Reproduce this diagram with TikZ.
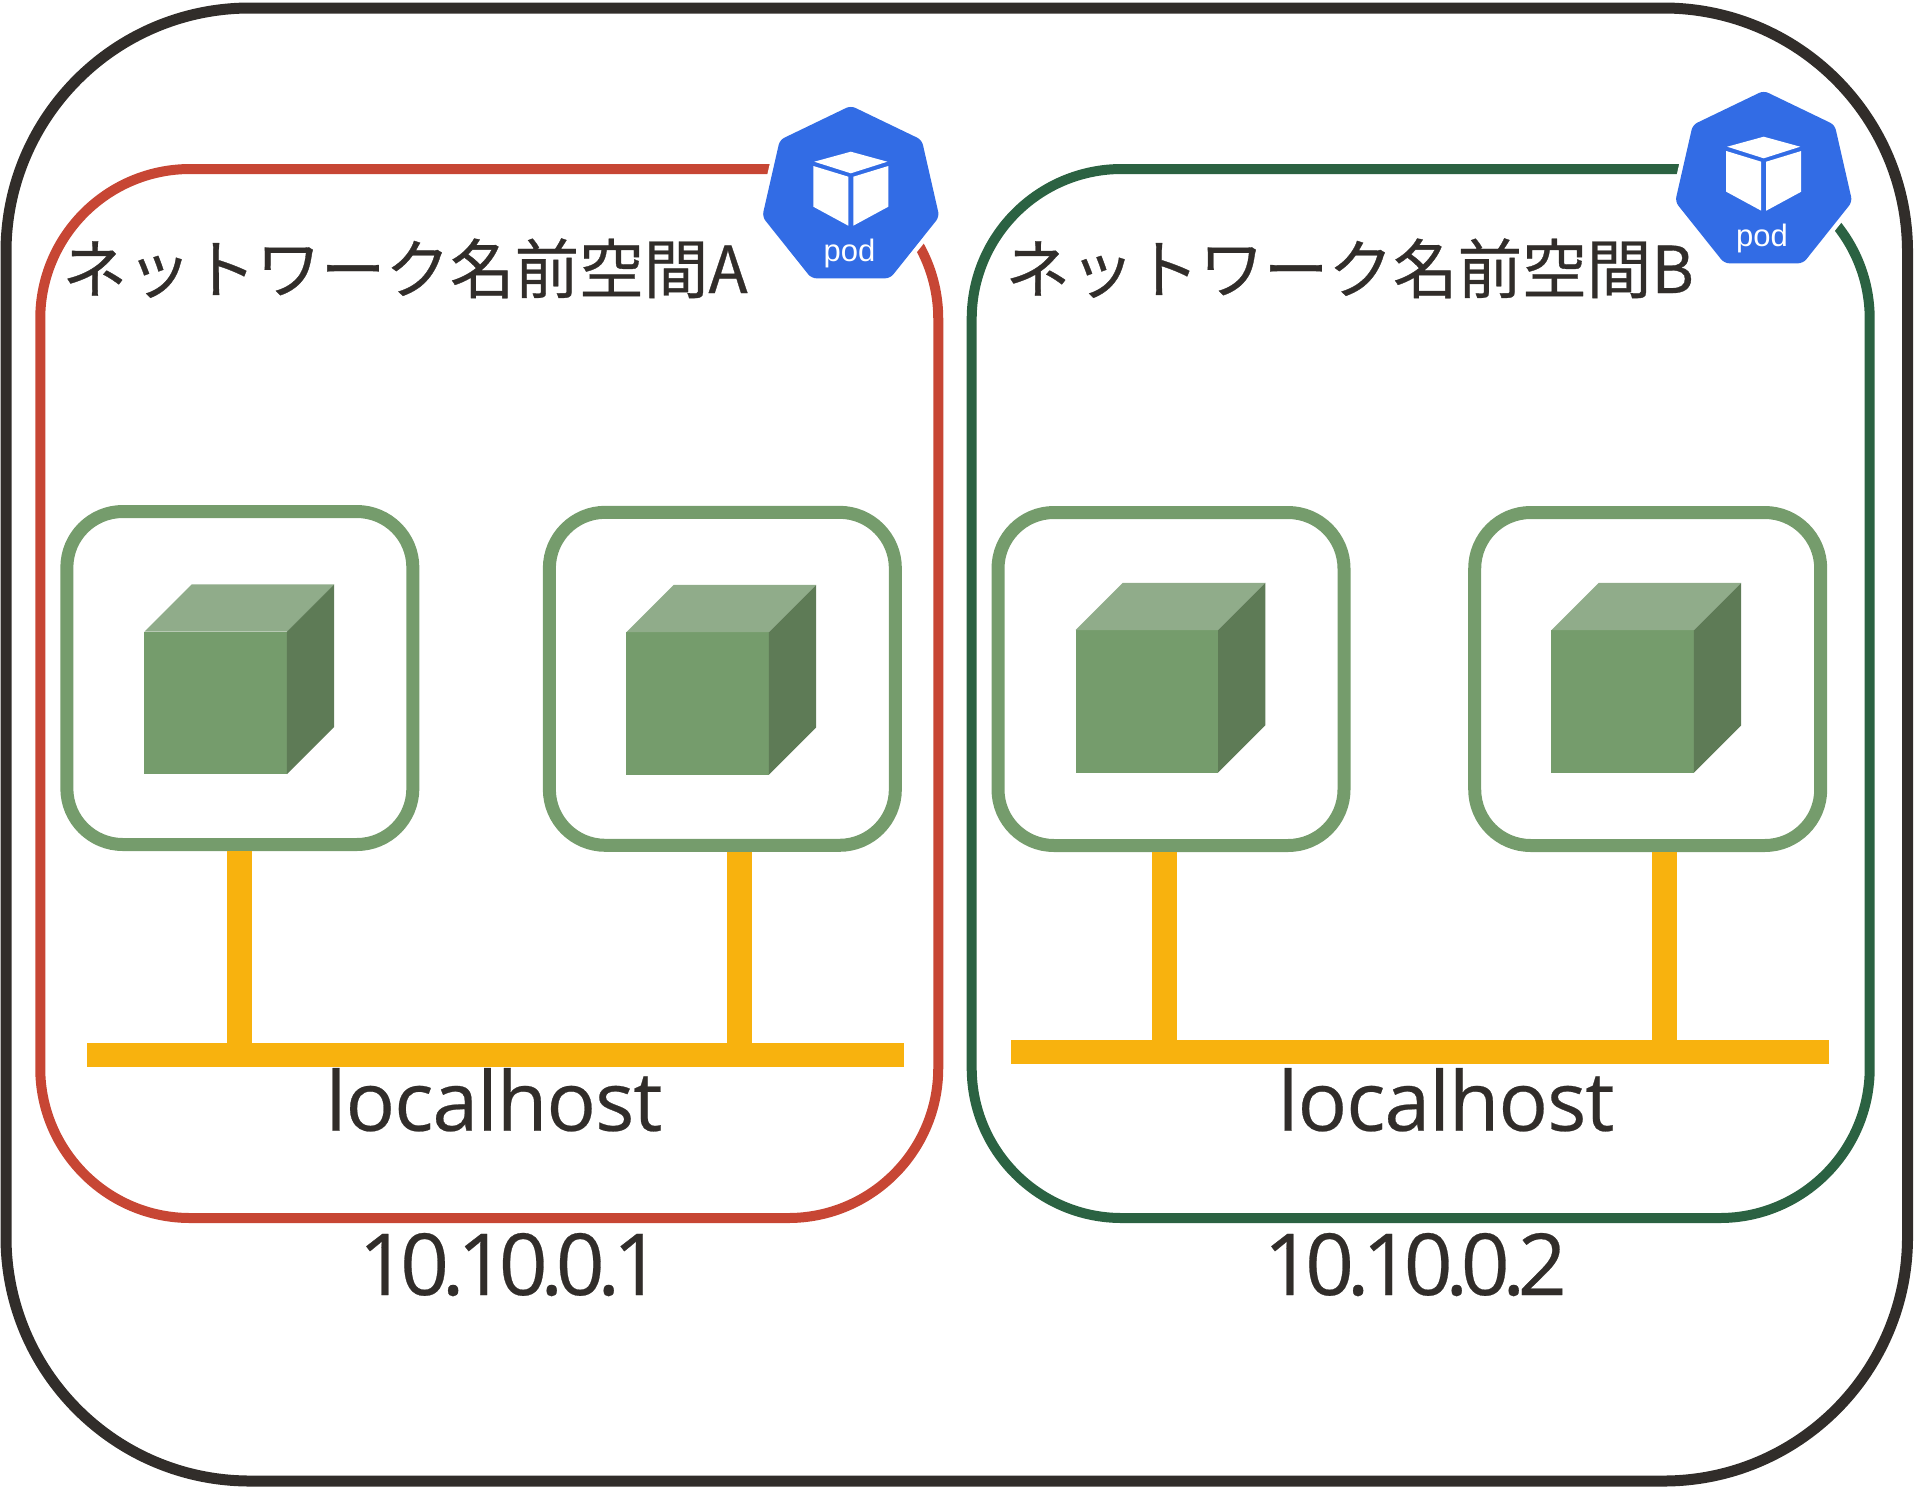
\documentclass[tikz,border=0pt]{standalone}
\usepackage{fontspec}
\usepackage{xcolor}
\usetikzlibrary{shapes.geometric}
\setmainfont{Open Sans}
\newfontfamily\titlefont[FakeBold=0.5]{Noto Sans CJK JP}
\newfontfamily\hostfont[LetterSpace=-1.3,FakeBold=0.3]{Open Sans}
\newfontfamily\addrfont[LetterSpace=-8.6,FakeBold=0.3]{Open Sans}
\newfontfamily\podfont{Liberation Sans}
\definecolor{inkdark}{HTML}{312D2A}
\definecolor{nsred}{HTML}{C74634}
\definecolor{nsgreen}{HTML}{2B6242}
\definecolor{boxgreen}{HTML}{759C6C}
\definecolor{cubelight}{HTML}{90AC8A}
\definecolor{cubedark}{HTML}{5E7B56}
\definecolor{busyellow}{HTML}{F8B20E}
\definecolor{podblue}{HTML}{326CE5}
\tikzstyle{host} = [rectangle, rounded corners=122pt, minimum width=950.75pt, minimum height=736.5pt, draw=inkdark, line width=5.5pt]
\tikzstyle{netns} = [rectangle, rounded corners=75pt, minimum width=449pt, minimum height=524.5pt, line width=5pt]
\tikzstyle{container} = [rectangle, rounded corners=28pt, minimum width=173pt, minimum height=166.5pt, draw=boxgreen, line width=6.5pt]
\tikzstyle{bus} = [rectangle, inner sep=0pt, outer sep=0pt, minimum width=408.75pt, minimum height=12pt, fill=busyellow]
\tikzstyle{wire} = [draw=busyellow, line width=12.2pt]
\tikzstyle{podsign} = [regular polygon, regular polygon sides=7, inner sep=0pt, outer sep=0pt, minimum size=90.8pt, rounded corners=2.5pt, fill=podblue, preaction={draw=white, line width=4.5pt}]
\tikzstyle{podtext} = [anchor=base, inner sep=0pt, text=white, font=\podfont\fontsize{15.5pt}{18pt}\selectfont]
\tikzstyle{title} = [anchor=base west, inner sep=0pt, text=inkdark, font=\titlefont\fontsize{32.3pt}{38pt}\selectfont]
\tikzstyle{hostname} = [anchor=base, inner sep=0pt, text=inkdark, font=\hostfont\fontsize{41.2pt}{48pt}\selectfont]
\tikzstyle{address} = [anchor=base, inner sep=0pt, text=inkdark, font=\addrfont\fontsize{42.8pt}{50pt}\selectfont]
% green cube, #1 #2 = top left corner of the front face
\newcommand{\greencube}[2]{
\fill [boxgreen] (#1,#2) rectangle ++(142.5,142.5);
\fill [cubelight] (#1,#2) -- ++(47.4,-47.4) -- ++(142.5,0) -- ++(-47.4,47.4) -- cycle;
\fill [cubedark] (#1+142.5,#2) -- ++(47.4,-47.4) -- ++(0,142.5) -- ++(-47.4,47.4) -- cycle;
}
% white box of the pod sign, #1 = name of the sign
\newcommand{\podbox}[1]{
\begin{scope}[shift={(#1.center)}]
\fill [white] (0,-44.8) -- (36.5,-34.8) -- (0,-23.2) -- (-36.5,-34.8) -- cycle;
\fill [white] (-37.5,-30.5) -- (-2.5,-19.8) -- (-2.5,29.2) -- (-37.5,10.2) -- cycle;
\fill [white] (2.5,-19.8) -- (37.5,-30.5) -- (37.5,10.2) -- (2.5,29.2) -- cycle;
\end{scope}
}
\begin{document}
\begin{tikzpicture}[x=0.5pt,y=-0.5pt]
\useasboundingbox (0,0) rectangle (1915,1489);

\node (hostbox) [host] at (956.75,744.5) {};
\node (nsa) [netns, draw=nsred] at (489.25,693.5) {};
\node (nsb) [netns, draw=nsgreen] at (1420.7,693.5) {};

\node (boxa) [container] at (239.85,678) {};
\node (boxb) [container] at (722.35,678.8) {};
\node (boxc) [container] at (1171,679) {};
\node (boxd) [container] at (1647.7,679) {};

\greencube{144.3}{631.7}
\greencube{626.3}{632.2}
\greencube{1075.5}{630.2}
\greencube{1551.3}{630.2}

\node (busa) [bus] at (495.25,1055) {};
\node (busb) [bus] at (1420.2,1052) {};

\draw [wire] ([xshift=-0.2pt]boxa.south) -- ([xshift=-0.2pt]boxa.south |- busa.north);
\draw [wire] ([xshift=8.6pt]boxb.south) -- ([xshift=8.6pt]boxb.south |- busa.north);
\draw [wire] ([xshift=-3.25pt]boxc.south) -- ([xshift=-3.25pt]boxc.south |- busb.north);
\draw [wire] ([xshift=8.4pt]boxd.south) -- ([xshift=8.4pt]boxd.south |- busb.north);

\node (titlea) [title] at (62,293) {ネットワーク名前空間A};
\node (titleb) [title] at (1005,293) {ネットワーク名前空間B};
\node (hosta) [hostname] at (494,1130.7) {localhost};
\node (hostb) [hostname] at (1446,1130.7) {localhost};
\node (addra) [address] at (510,1295) {10.10.0.1};
\node (addrb) [address] at (1415,1295) {10.10.0.2};

\node (poda) [podsign] at (850.8,196.5) {};
\node (podb) [podsign] at (1763.7,181.5) {};
\podbox{poda}
\podbox{podb}
\node (podlabela) [podtext] at (849.5,261.7) {pod};
\node (podlabelb) [podtext] at (1762,246.7) {pod};
\end{tikzpicture}
\end{document}
